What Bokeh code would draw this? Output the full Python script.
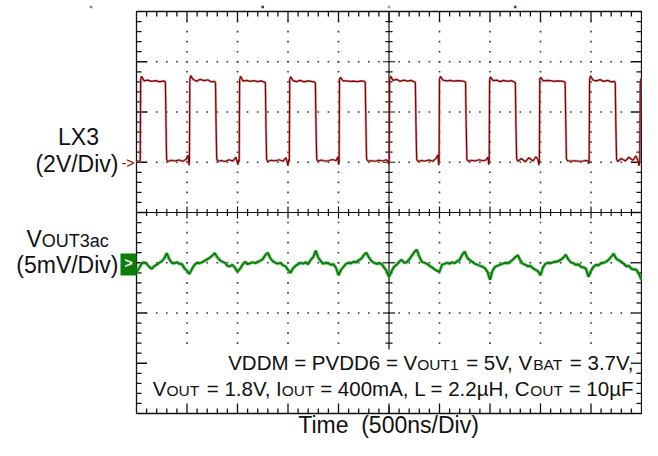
import numpy as np
from bokeh.plotting import figure
from bokeh.models import Range1d
from bokeh.core.properties import value
from bokeh.embed import file_html
from bokeh.resources import INLINE

# ---------------- data ----------------
# time axis in ns (500 ns / div), LX3 in volts (2 V / div), VOUT3 ac in mV (5 mV / div)
lx3_t = [
    0, 20, 37, 41, 50, 75, 110, 150, 190, 230, 265, 286, 292, 298, 310, 345, 380, 420, 460, 490, 510, 520, 524,
    528, 537, 560, 595, 630, 670, 705, 740, 770, 782, 788, 794, 805, 840, 875, 915, 955, 985, 1005, 1012, 1017,
    1021, 1030, 1055, 1090, 1125, 1160, 1200, 1235, 1265, 1276, 1282, 1288, 1300, 1335, 1375, 1410, 1450, 1480, 1500, 1508, 1513,
    1517, 1526, 1550, 1585, 1620, 1660, 1695, 1730, 1760, 1771, 1777, 1784, 1795, 1830, 1870, 1905, 1945, 1975, 1995, 2002, 2006,
    2010, 2019, 2045, 2080, 2115, 2150, 2190, 2225, 2255, 2265, 2271, 2278, 2290, 2325, 2365, 2400, 2440, 2470, 2490, 2498, 2502,
    2506, 2515, 2540, 2575, 2610, 2645, 2685, 2720, 2750, 2761, 2767, 2774, 2786, 2820, 2860, 2895, 2935, 2965, 2985, 2992, 2996,
    3000, 3009, 3035, 3070, 3105, 3140, 3180, 3215, 3245, 3258, 3264, 3271, 3283, 3318, 3355, 3390, 3430, 3460, 3480, 3488, 3492,
    3496, 3505, 3530, 3565, 3600, 3635, 3675, 3710, 3740, 3751, 3757, 3764, 3776, 3810, 3850, 3885, 3925, 3955, 3975, 3984, 3989,
    3993, 4002, 4028, 4063, 4098, 4133, 4170, 4205, 4235, 4244, 4250, 4257, 4270, 4305, 4345, 4380, 4420, 4450, 4470, 4478, 4482,
    4486, 4495, 4520, 4555, 4590, 4625, 4665, 4700, 4730, 4740, 4746, 4753, 4765, 4800, 4840, 4875, 4915, 4945, 4965, 4975, 4983,
    4988, 4997, 5000,
]
lx3_v = [
    0.06, 0.04, 0.05, 3.3, 3.42, 3.24, 3.27, 3.22, 3.25, 3.2, 3.24, 3.2, 1.6, 0.12, 0.03, 0.08, 0.05, 0.09, 0.04, 0.12, 0.28, -0.12, 0.05,
    3.3, 3.45, 3.3, 3.22, 3.3, 3.25, 3.28, 3.2, 3.22, 3.18, 1.5, 0.15, 0.04, 0.07, 0.03, 0.1, 0.05, 0.2, -0.1, 0.1, 0.02,
    3.28, 3.42, 3.23, 3.26, 3.22, 3.25, 3.21, 3.24, 3.19, 3.17, 1.4, 0.12, 0.03, 0.08, 0.05, 0.1, 0.04, 0.18, -0.14, 0.12, 0.03,
    3.3, 3.4, 3.25, 3.21, 3.26, 3.2, 3.24, 3.22, 3.2, 3.16, 1.5, 0.14, 0.04, 0.09, 0.04, 0.07, 0.11, 0.06, 0.22, -0.1, 0.04,
    3.29, 3.38, 3.24, 3.24, 3.22, 3.23, 3.21, 3.24, 3.22, 3.18, 1.6, 0.13, 0.05, 0.06, 0.04, 0.08, 0.05, 0.1, 0.04, -0.08, 0.05,
    3.3, 3.43, 3.26, 3.3, 3.22, 3.27, 3.23, 3.26, 3.2, 3.17, 1.5, 0.13, 0.03, 0.07, 0.05, 0.09, 0.04, 0.15, 0.3, -0.12, 0.04,
    3.3, 3.42, 3.27, 3.24, 3.26, 3.23, 3.25, 3.24, 3.22, 3.18, 1.5, 0.12, 0.04, 0.08, 0.05, 0.1, 0.06, 0.09, 0.2, -0.1, 0.04,
    3.28, 3.4, 3.25, 3.27, 3.21, 3.26, 3.22, 3.25, 3.2, 3.16, 1.45, 0.14, 0.04, 0.15, 0.02, 0.18, 0.05, 0.22, 0.1, -0.12, 0.06,
    3.3, 3.38, 3.24, 3.26, 3.25, 3.22, 3.24, 3.23, 3.21, 3.17, 1.6, 0.13, 0.05, 0.05, 0.06, 0.04, 0.05, 0.07, 0.05, -0.06, 0.04,
    3.3, 3.44, 3.27, 3.24, 3.29, 3.22, 3.26, 3.2, 3.22, 3.17, 1.5, 0.12, 0.03, 0.15, 0.05, 0.2, 0.08, 0.25, 0.06, -0.14, 0.05,
    3.2, 3.35, 3.3,
]

vout_t = list(range(0, 5001, 25))
vout_mv = [
    -0.95, -0.55, -0.1, 0.05, -0.1, -0.4, -0.6, -0.35, -0.2, 0.0,
    0.15, 0.45, 0.95, 0.35, 0.0, -0.05, 0.05, -0.1, -0.15, -0.55,
    -0.8, -1.1, -0.6, -0.2, 0.0, -0.05, 0.05, 0.2, 0.35, 0.5,
    0.7, 0.95, 0.55, 0.25, 0.1, 0.0, -0.3, -0.35, -0.2, -0.5,
    -0.9, -0.6, -0.2, 0.1, -0.15, -0.05, 0.05,
    -0.05, 0.1, 0.2, 0.35, 0.75, 1.0, 0.45, 0.15, 0.0, -0.1,
    0.0, -0.25, -0.35, -0.7, -1.0, -0.55, -0.3, -0.15, 0.0, -0.1,
    0.05, -0.15, 0.3, 0.55, 1.2, 0.5, 0.15, -0.1, 0.0, -0.05,
    -0.2, -0.15, -0.5, -1.25, -0.7, -0.4, -0.1, 0.0, -0.05, 0.1,
    0.05, 0.25, 0.4, 0.75, 1.0, 0.55, 0.2, 0.0, -0.1,
    -0.05, -0.1, -0.45, -0.8, -1.4, -0.85, -0.4, -0.2, 0.1, 0.3,
    0.0, 0.05, 0.3, 0.7, 1.05, 1.3, 0.6, 0.1, 0.0, -0.1,
    -0.3, -0.45, -0.65, -0.8, -0.9, -0.2, -0.1, 0.0, -0.1, 0.05,
    -0.05, 0.15, 0.3, 0.8, 1.1, 0.5, 0.25, 0.1, -0.1, -0.2,
    -0.3, -0.4, -0.55, -0.9, -1.7, -0.8, -0.4, -0.3, -0.2, -0.1,
    0.0, -0.05, 0.1, 0.3, 0.55, 0.75, 0.25, -0.1, -0.2, -0.35,
    -0.3, -0.55, -0.7, -0.85, -1.25, -0.45, -0.1, 0.0, -0.05, 0.05,
    0.1, 0.15, 0.3, 0.5, 0.8, 0.35, 0.05, -0.05, -0.2, -0.15,
    -0.4, -0.45, -0.6, -1.4, -0.8, -0.4, -0.2, -0.25, -0.05, 0.0,
    0.1, 0.3, 0.6, 0.9, 0.4, 0.25, 0.1, -0.1, -0.35, -0.3,
    -0.6, -0.65, -0.7, -1.1, -1.7,
]
assert len(lx3_t) == len(lx3_v) and len(vout_t) == len(vout_mv)

# small scope position markers above the screen (time in ns, colour)
marker_t = [-450, 1250, 2500, 3750]
marker_col = ["#888888", "#1f4f1f", "#66cc66", "#1a6a1a"]

# scope settings
ns_per_div = 500
lx3_v_per_div, lx3_offset_div = 2.0, 1.0
vout_mv_per_div, vout_offset_div = 5.0, -1.0

# ---------------- geometry (canvas px) ----------------
W, H = 642, 440
SX0, SX1 = 136.0, 641.0      # scope screen left / right
SY0, SY1 = 11.0, 413.0       # scope screen top / bottom
XPX = (SX1 - SX0) / 10.0
YPX = (SY1 - SY0) / 8.0
YC = (SY0 + SY1) / 2.0
def px_x(xp):
    return (xp - SX0) / XPX
def px_y(yp):
    return (YC - yp) / YPX

p = figure(width=W, height=H, output_backend="svg", toolbar_location=None,
           x_range=Range1d(px_x(0), px_x(W)), y_range=Range1d(px_y(H), px_y(0)),
           x_axis_location=None, y_axis_location=None, min_border=0)
p.xgrid.visible = False
p.ygrid.visible = False
p.outline_line_color = None
p.background_fill_color = "white"
p.border_fill_color = "white"

INK = "#111111"
grid_col = "#333333"
minor = np.round(np.arange(0, 10.0001, 0.2), 3)
minor_y = np.round(np.arange(-4, 4.0001, 0.2), 3)

# dotted graticule
dx, dy = [], []
for gx in [1, 2, 3, 4, 6, 7, 8, 9]:
    for yy in minor_y[1:-1]:
        dx.append(gx); dy.append(yy)
for gy in [-3, -2, -1, 1, 2, 3]:
    for xx in minor[1:-1]:
        dx.append(xx); dy.append(gy)
p.scatter(dx, dy, marker="square", size=1.6, color=grid_col, line_color=None)

# center cross with ticks
cx_xs, cx_ys = [[0, 10], [5, 5]], [[0, 0], [-4, 4]]
for xx in minor[1:-1]:
    h = 0.12 if abs(xx - round(xx)) < 1e-6 else 0.07
    cx_xs.append([xx, xx]); cx_ys.append([-h, h])
for yy in minor_y[1:-1]:
    h = 0.12 if abs(yy - round(yy)) < 1e-6 else 0.07
    cx_xs.append([5 - h, 5 + h]); cx_ys.append([yy, yy])
p.multi_line(cx_xs, cx_ys, line_color=INK, line_width=1.2)

# white box behind the conditions text
p.quad(left=0.21, right=9.79, bottom=px_y(406), top=px_y(349),
       fill_color="white", line_color=None)

# border + border ticks
bx, by = [[0, 10, 10, 0, 0]], [[-4, -4, 4, 4, -4]]
for xx in minor[1:-1]:
    h = 0.2 if abs(xx - round(xx)) < 1e-6 else 0.1
    bx.append([xx, xx]); by.append([4, 4 - h])
    bx.append([xx, xx]); by.append([-4, -4 + h])
for yy in minor_y[1:-1]:
    h = 0.2 if abs(yy - round(yy)) < 1e-6 else 0.1
    bx.append([0, h]); by.append([yy, yy])
    bx.append([10, 10 - h]); by.append([yy, yy])
p.multi_line(bx, by, line_color=INK, line_width=1.3)

# position markers above the screen
p.scatter(np.array(marker_t) / ns_per_div, [px_y(6.5)] * len(marker_t), marker="square",
          size=2.6, color=marker_col, line_color=None)

# traces (soft halo underneath, like the scope's anti-aliased trace)
lx3_x = np.array(lx3_t) / ns_per_div
lx3_y = lx3_offset_div + np.array(lx3_v) / lx3_v_per_div
p.line(lx3_x, lx3_y, line_color="#c48080", line_width=2.4, line_alpha=0.7)
p.line(lx3_x, lx3_y, line_color="#820000", line_width=1.2)

vo_x = np.array(vout_t) / ns_per_div
vo_y = vout_offset_div + np.array(vout_mv) / vout_mv_per_div
p.line(vo_x, vo_y, line_color="#5fb05f", line_width=3.4, line_alpha=0.75)
p.line(vo_x, vo_y, line_color="#008000", line_width=1.8)

# ---------------- texts ----------------
FONT = "Liberation Sans"
TXT = "#111111"
BASE_FIX = 0.35   # observed: alphabetic baseline lands ~0.35 em low, compensate
AW = {' ': 278, ',': 278, '.': 278, '=': 584, '(': 333, ')': 333, '/': 278, '>': 584, '-': 333,
      'A': 667, 'B': 667, 'C': 722, 'D': 722, 'F': 611, 'H': 722, 'I': 278, 'L': 556, 'M': 833,
      'O': 778, 'P': 667, 'T': 611, 'U': 722, 'V': 667, 'X': 667, 'a': 556, 'c': 500, 'i': 222,
      'm': 833, 'n': 556, 's': 500, 'v': 500, 'e': 556, '\u00b5': 576}
for d in "0123456789":
    AW[d] = 556

def tw(s, size):
    return sum(AW.get(ch, 556) for ch in s) * size / 1000.0

def add(text, xp, yp, size, align="left", color=TXT, xoff=0.0, baseline="alphabetic", style="normal"):
    if baseline == "alphabetic":
        yp = yp - BASE_FIX * size
    p.text(x=[px_x(xp)], y=[px_y(yp)], text=[text], x_offset=xoff,
           text_font=value(FONT), text_font_size=value(f"{size}px"), text_color=color,
           text_align=align, text_baseline=baseline, text_font_style=style)

def rich_line(segs, x_right_px, base_px):
    # each segment is anchored at its own right end, so width errors go into the spaces
    total = sum(tw(t, s) for t, s in segs)
    c = 0.0
    for t, s in segs:
        c += tw(t, s)
        trail = len(t) - len(t.rstrip(' '))
        add(t.strip(' '), x_right_px, base_px, s, align="right",
            xoff=c - tw(' ' * trail, s) - total)

BIG, SMALL = 20.5, 15.5
rich_line([("VDDM = PVDD6 = V", BIG), ("OUT1", SMALL), (" = 5V, V", BIG), ("BAT", SMALL),
           (" = 3.7V,", BIG)], 633, 369)
rich_line([("V", BIG), ("OUT", SMALL), (" = 1.8V, I", BIG), ("OUT", SMALL),
           (" = 400mA, L = 2.2\u00b5H, C", BIG), ("OUT", SMALL), (" = 10\u00b5F", BIG)], 633, 395)

# channel labels
add("LX3", 78, 145, 23, align="center")
add("(2V/Div)", 118, 172, 23, align="right")
add("->", 134, 167, 14, align="right", color="#9a0000")

add("V", 26, 247, 23)
add("OUT3ac", 26, 247, 18, xoff=tw("V", 23))
add("(5mV/Div)", 118, 273, 23, align="right")
p.quad(left=px_x(120), right=px_x(136), top=px_y(253), bottom=px_y(275),
       fill_color="#0a7d0a", line_color=None)
add(">", 128, 262.5, 14, align="center", color="white", baseline="middle", style="bold")

# time label (kept inside the canvas)
add("Time", 348, 433, 23, align="right")
add("(500ns/Div)", 360.7, 433, 23, align="left")

open("out.html", "w").write(file_html(p, INLINE))
